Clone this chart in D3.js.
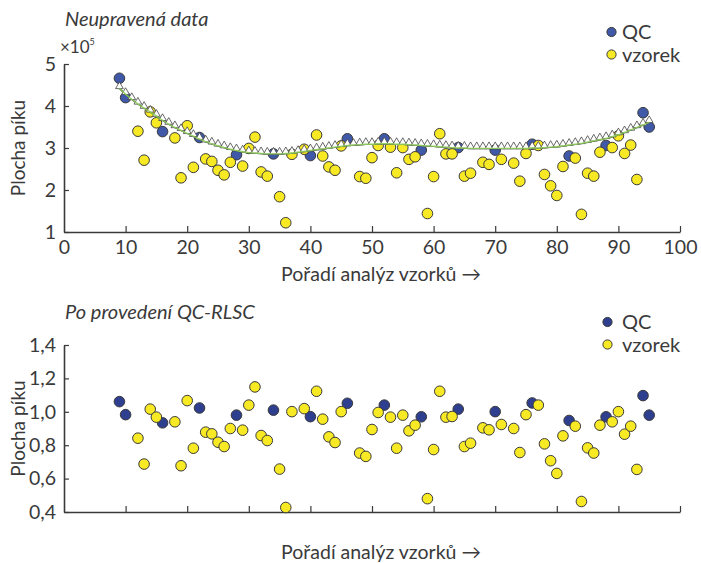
<!DOCTYPE html>
<html>
<head>
<meta charset="utf-8">
<script src="https://cdn.jsdelivr.net/npm/d3@7"></script>
<style>
  body { margin: 0; background: #fff; }
  svg { display: block; }
  text { font-family: Lato, "Open Sans", sans-serif; fill: #3a3a3a; }
</style>
</head>
<body>
<svg id="chart" width="701" height="563"></svg>
<script>
// Injection order of the pooled QC samples
const qcOrder = [9, 10, 16, 22, 28, 34, 40, 46, 52, 58, 64, 70, 76, 82, 88, 94, 95];
// QC peak area, raw (×10^5)
const qcRaw = [4.66, 4.20, 3.39, 3.25, 2.84, 2.86, 2.82, 3.22, 3.22, 2.95, 3.01, 2.95, 3.09, 2.81, 3.06, 3.84, 3.50];
// QC peak area after QC-RLSC correction
const qcCorrected = [1.061, 0.983, 0.934, 1.023, 0.980, 1.010, 0.971, 1.051, 1.040, 0.970, 1.016, 1.001, 1.053, 0.948, 0.970, 1.097, 0.980];

// Injection order of the study samples
const sampleOrder = [12, 13, 14, 15, 18, 19, 20, 21, 23, 24, 25, 26, 27, 29, 30, 31, 32, 33, 35, 36, 37, 39, 41, 42, 43, 44, 45, 48, 49, 50, 51, 53, 54, 55, 56, 57, 59, 60, 61, 62, 63, 65, 66, 68, 69, 71, 73, 74, 75, 77, 78, 79, 80, 81, 83, 84, 85, 86, 87, 89, 90, 91, 92, 93];
// Sample peak area, raw (×10^5)
const sampleRaw = [3.40, 2.71, 3.86, 3.60, 3.24, 2.29, 3.53, 2.54, 2.74, 2.68, 2.47, 2.36, 2.66, 2.57, 2.99, 3.26, 2.43, 2.33, 1.84, 1.22, 2.85, 2.97, 3.31, 2.81, 2.55, 2.47, 3.05, 2.32, 2.28, 2.77, 3.06, 3.02, 2.41, 3.01, 2.73, 2.79, 1.44, 2.32, 3.34, 2.86, 2.86, 2.33, 2.40, 2.66, 2.61, 2.73, 2.64, 2.21, 2.87, 3.06, 2.37, 2.10, 1.87, 2.56, 2.76, 1.42, 2.40, 2.33, 2.90, 3.01, 3.29, 2.87, 3.07, 2.25];
// Sample peak area after QC-RLSC correction
const sampleCorrected = [0.842, 0.687, 1.016, 0.968, 0.940, 0.677, 1.067, 0.782, 0.878, 0.868, 0.818, 0.792, 0.900, 0.890, 1.040, 1.149, 0.858, 0.828, 0.657, 0.427, 1.001, 1.019, 1.123, 0.956, 0.850, 0.816, 1.001, 0.753, 0.733, 0.894, 0.996, 0.968, 0.782, 0.980, 0.886, 0.920, 0.480, 0.774, 1.123, 0.968, 0.972, 0.792, 0.812, 0.904, 0.892, 0.924, 0.900, 0.756, 0.983, 1.040, 0.808, 0.707, 0.631, 0.856, 0.914, 0.463, 0.784, 0.753, 0.920, 0.940, 1.001, 0.866, 0.914, 0.655];

// RLSC drift curve fitted through the QC samples (×10^5)
const fitOrder = [9, 10, 11, 12, 13, 14, 15, 16, 17, 18, 19, 20, 21, 22, 23, 24, 25, 26, 27, 28, 29, 30, 31, 32, 33, 34, 35, 36, 37, 38, 39, 40, 41, 42, 43, 44, 45, 46, 47, 48, 49, 50, 51, 52, 53, 54, 55, 56, 57, 58, 59, 60, 61, 62, 63, 64, 65, 66, 67, 68, 69, 70, 71, 72, 73, 74, 75, 76, 77, 78, 79, 80, 81, 82, 83, 84, 85, 86, 87, 88, 89, 90, 91, 92, 93, 94, 95];
const fitValues = [4.42, 4.28, 4.16, 4.05, 3.95, 3.86, 3.76, 3.66, 3.57, 3.49, 3.42, 3.35, 3.28, 3.21, 3.15, 3.10, 3.05, 3.01, 2.97, 2.94, 2.91, 2.89, 2.88, 2.87, 2.86, 2.86, 2.86, 2.87, 2.88, 2.90, 2.92, 2.94, 2.96, 2.98, 3.00, 3.02, 3.04, 3.06, 3.07, 3.08, 3.09, 3.09, 3.10, 3.10, 3.10, 3.09, 3.09, 3.08, 3.07, 3.06, 3.05, 3.04, 3.03, 3.02, 3.01, 3.00, 3.00, 2.99, 2.99, 2.99, 2.99, 2.99, 2.99, 2.99, 2.99, 2.99, 2.99, 3.00, 3.00, 3.01, 3.02, 3.03, 3.05, 3.07, 3.09, 3.11, 3.14, 3.17, 3.20, 3.23, 3.27, 3.32, 3.37, 3.43, 3.49, 3.55, 3.61];

// Axis ticks and labels
const xTicks = [0, 10, 20, 30, 40, 50, 60, 70, 80, 90, 100];
const yTicksRaw = [1, 2, 3, 4, 5];
const yTicksCorrected = [0.4, 0.6, 0.8, 1.0, 1.2, 1.4];
const legendLabels = ["QC", "vzorek"];

const C = {
  qc: "#3f58a8", qcDark: "#2f3f8f", sample: "#f7e923",
  edge: "#3a3a3a", axis: "#3a3a3a", fitLine: "#4a4f4a", fitGreen: "#8fcf5a"
};

const svg = d3.select("#chart");

function drawPanel(cfg) {
  const g = svg.append("g");
  const x = d3.scaleLinear().domain([0, 100]).range([64, 680]);
  const y = d3.scaleLinear().domain(cfg.yDomain).range(cfg.yRange);

  // axes with inward ticks
  const xAxis = d3.axisBottom(x).tickValues(xTicks).tickSizeInner(-6).tickSizeOuter(0).tickPadding(8)
    .tickFormat(cfg.xLabels ? d3.format("d") : () => "");
  const gx = g.append("g").attr("transform", `translate(0,${cfg.yRange[0]})`).call(xAxis);
  const yAxis = d3.axisLeft(y).tickValues(cfg.yTicks).tickSizeInner(-5).tickSizeOuter(0).tickPadding(8)
    .tickFormat(cfg.yFormat);
  const gy = g.append("g").attr("transform", "translate(64,0)").call(yAxis);
  [gx, gy].forEach(a => {
    a.select(".domain").attr("stroke", C.axis).attr("stroke-width", 1.6);
    a.selectAll(".tick line").attr("stroke", C.axis).attr("stroke-width", 1.2);
    a.selectAll(".tick text").attr("fill", "#3a3a3a").style("font-size", "19.5px").style("font-family", "Lato, sans-serif");
  });
  gx.selectAll(".tick").filter(d => d === 0).select("line").remove();

  // scatter: QC first, samples on top
  g.append("g").selectAll("circle").data(cfg.qc).join("circle")
    .attr("cx", d => x(d[0])).attr("cy", d => y(d[1])).attr("r", 5.3)
    .attr("fill", cfg.qcColor).attr("stroke", C.edge).attr("stroke-width", 1);
  g.append("g").selectAll("circle").data(cfg.samples).join("circle")
    .attr("cx", d => x(d[0])).attr("cy", d => y(d[1])).attr("r", 5.3)
    .attr("fill", C.sample).attr("stroke", C.edge).attr("stroke-width", 1);

  if (cfg.fit) {
    const line = d3.line().x(d => x(d[0])).y(d => y(d[1])).curve(d3.curveMonotoneX);
    g.append("path").datum(cfg.fit).attr("d", line)
      .attr("fill", "none").attr("stroke", C.fitLine).attr("stroke-width", 1.6);
    const tri = d3.symbol().type(d3.symbolTriangle).size(26);
    g.append("g").selectAll("path").data(cfg.fit).join("path")
      .attr("d", tri)
      .attr("transform", d => `translate(${x(d[0])},${y(d[1]) - 2})`)
      .attr("fill", "#ffffff").attr("stroke", "#444").attr("stroke-width", 0.8);
    g.append("path").datum(cfg.fit).attr("d", line)
      .attr("fill", "none").attr("stroke", C.fitGreen).attr("stroke-width", 1.4).attr("opacity", 0.9);
  }

  // title
  g.append("text").attr("x", 65).attr("y", cfg.titleY).text(cfg.title)
    .style("font-size", "20px").style("font-style", "italic");

  // y title
  const yMid = (cfg.yRange[0] + cfg.yRange[1]) / 2;
  g.append("text").attr("transform", `translate(25,${yMid}) rotate(-90)`)
    .attr("text-anchor", "middle").text("Plocha píku").style("font-size", "19px");

  // x title
  g.append("text").attr("x", 381).attr("y", cfg.xTitleY).attr("text-anchor", "middle")
    .text("Pořadí analýz vzorků →").style("font-size", "19.5px");

  // legend
  const lg = g.append("g");
  [cfg.qcColor, C.sample].forEach((col, i) => {
    lg.append("circle").attr("cx", cfg.legendX).attr("cy", cfg.legendY + i * 22.5).attr("r", 4.6)
      .attr("fill", col).attr("stroke", C.edge).attr("stroke-width", 1);
    lg.append("text").attr("x", 622).attr("y", cfg.legendY + i * 22.5 + 7)
      .text(legendLabels[i]).style("font-size", "20px");
  });
  return g;
}

const rawPanel = drawPanel({
  yDomain: [1, 5], yRange: [232, 64], yTicks: yTicksRaw, yFormat: d3.format("d"), xLabels: true,
  qc: qcOrder.map((o, i) => [o, qcRaw[i]]),
  samples: sampleOrder.map((o, i) => [o, sampleRaw[i]]),
  fit: fitOrder.map((o, i) => [o, fitValues[i]]),
  qcColor: C.qc, title: "Neupravená data", titleY: 26, xTitleY: 281,
  legendX: 611.5, legendY: 32
});
// exponent marker of the raw axis
const ex = rawPanel.append("text").attr("x", 60).attr("y", 53).style("font-size", "17px");
ex.append("tspan").text("×10");
ex.append("tspan").attr("dy", -8).style("font-size", "9px").text("5");

drawPanel({
  yDomain: [0.4, 1.4], yRange: [512, 345], yTicks: yTicksCorrected,
  yFormat: d => d.toFixed(1).replace(".", ","), xLabels: false,
  qc: qcOrder.map((o, i) => [o, qcCorrected[i]]),
  samples: sampleOrder.map((o, i) => [o, sampleCorrected[i]]),
  fit: null,
  qcColor: C.qcDark, title: "Po provedení QC-RLSC", titleY: 319, xTitleY: 559,
  legendX: 607.5, legendY: 322
});
</script>
</body>
</html>
